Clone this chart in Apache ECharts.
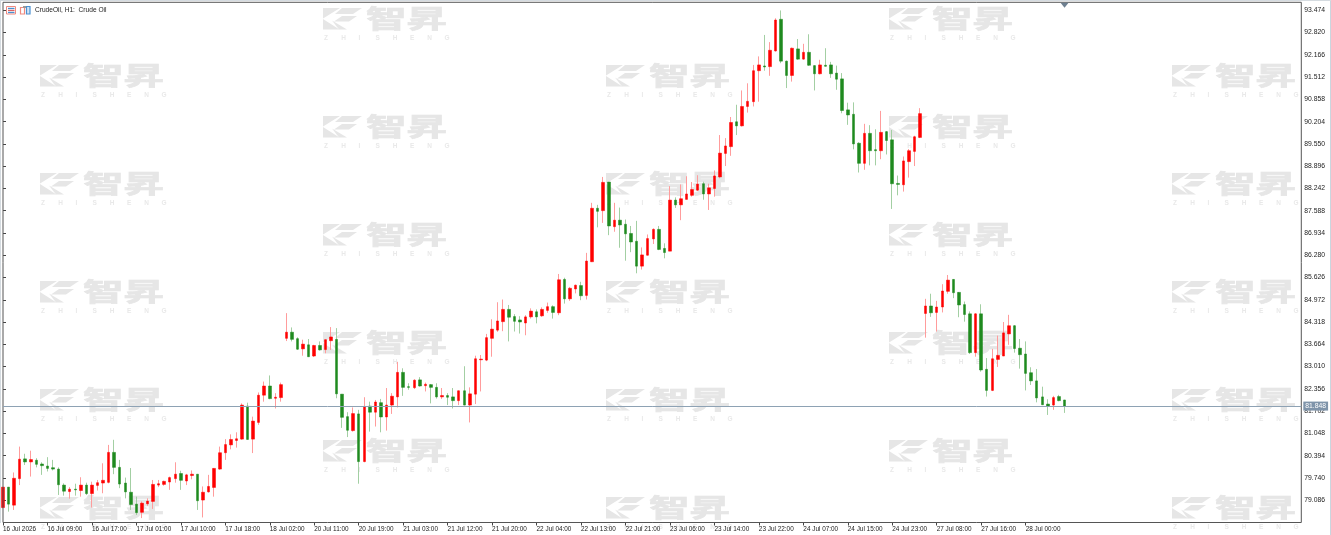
<!DOCTYPE html>
<html><head><meta charset="utf-8"><style>html,body{margin:0;padding:0;background:#fff}#c{width:1331px;height:535px}</style>
<script src="https://cdn.jsdelivr.net/npm/echarts@6/dist/echarts.min.js"></script></head><body><div id="c"></div>
<script>
const opens=[78.87,79.47,78.94,79.72,80.30,80.21,80.26,80.15,80.09,80.04,
80.00,79.53,79.34,79.41,79.37,79.53,79.28,79.52,79.59,79.61,
80.49,80.05,79.59,79.32,78.97,78.73,78.98,79.05,79.53,79.55,
79.62,79.72,79.87,79.65,79.81,79.85,79.09,79.33,79.46,80.00,
80.48,80.71,80.84,80.88,81.85,80.88,81.37,82.17,82.44,82.08,
82.10,83.84,84.02,83.83,83.53,83.65,83.32,83.63,83.51,83.77,
83.81,82.20,81.54,81.13,81.62,80.22,81.85,81.67,81.95,81.53,
81.88,82.12,82.84,82.42,82.39,82.62,82.45,82.48,82.40,82.12,
82.16,82.12,82.01,82.30,81.88,82.20,83.21,83.20,83.84,84.08,
84.33,84.69,84.48,84.38,84.29,84.47,84.62,84.50,84.66,84.77,
84.59,85.57,85.00,85.29,85.39,85.10,86.09,87.66,87.59,88.43,
87.12,87.31,87.19,86.92,86.69,85.96,86.28,86.76,87.04,86.48,
86.40,87.90,87.76,87.92,88.04,88.19,88.38,88.08,88.24,88.58,
89.27,89.47,90.20,90.08,90.65,90.79,91.70,91.84,91.82,92.28,
93.21,91.98,91.56,92.34,92.04,92.24,91.85,91.61,91.86,91.87,
91.63,91.46,90.55,90.42,89.57,88.98,89.86,89.38,89.35,89.91,
89.67,88.39,88.35,89.03,89.33,89.74,84.57,84.79,84.60,84.76,
85.22,85.57,85.19,84.83,84.56,83.42,84.56,82.93,82.31,83.22,
83.32,83.97,84.21,83.55,83.38,82.83,82.59,82.12,81.91,81.88,
82.13,82.03];
const closes=[79.47,78.97,79.73,80.29,80.21,80.28,80.14,80.10,80.02,80.00,
79.54,79.35,79.41,79.39,79.53,79.28,79.53,79.60,79.67,80.49,
80.05,79.56,79.33,78.96,78.72,79.00,79.06,79.55,79.57,79.64,
79.75,79.85,79.67,79.83,79.85,79.07,79.32,79.49,80.02,80.48,
80.72,80.87,80.89,81.88,80.87,81.41,82.17,82.44,82.07,82.11,
82.48,84.02,83.81,83.52,83.67,83.30,83.63,83.50,83.80,83.88,
82.21,81.52,81.14,81.63,80.22,81.84,81.67,81.97,81.53,81.88,
82.14,82.84,82.40,82.40,82.61,82.44,82.49,82.40,82.12,82.16,
82.11,82.01,82.30,81.88,82.21,83.24,83.23,83.86,84.11,84.35,
84.69,84.46,84.34,84.32,84.47,84.64,84.47,84.69,84.77,84.60,
85.56,85.00,85.31,85.40,85.09,86.11,87.66,87.57,88.42,87.14,
87.31,87.17,86.91,86.67,85.96,86.29,86.77,87.04,86.45,86.36,
87.90,87.76,87.94,88.08,88.21,88.37,88.08,88.26,88.61,89.28,
89.49,90.18,90.08,90.65,90.80,91.70,91.87,91.81,92.30,93.19,
91.98,91.56,92.36,92.04,92.24,91.86,91.61,91.87,91.83,91.61,
91.45,90.53,90.40,89.55,88.98,89.86,89.35,89.35,89.89,89.65,
88.38,88.36,89.05,89.35,89.76,90.44,84.79,84.59,84.76,85.23,
85.55,85.18,84.82,84.54,83.42,84.56,82.91,82.31,83.24,83.34,
84.00,84.21,83.54,83.36,82.81,82.59,82.09,81.89,81.85,82.10,
82.01,81.85];
const lows=[78.85,78.75,78.80,79.53,80.12,79.78,80.05,79.83,79.93,79.96,
79.24,79.22,79.13,79.22,79.19,79.24,78.87,79.37,79.29,79.58,
79.85,79.44,79.14,78.80,78.65,78.56,78.92,78.83,79.47,79.51,
79.39,79.60,79.39,79.53,79.70,78.80,78.58,79.31,79.19,79.98,
80.27,80.58,80.63,80.86,80.86,80.47,81.30,81.98,82.05,81.78,
81.98,83.76,83.75,83.50,83.33,83.29,83.29,83.48,83.40,83.50,
82.08,81.21,80.94,81.10,79.57,80.20,81.10,81.25,81.08,81.13,
81.62,81.81,82.15,82.33,82.35,82.42,82.28,81.93,82.07,82.06,
81.88,81.78,81.88,81.87,81.37,81.91,82.28,83.17,83.30,84.03,
84.05,83.75,84.04,83.98,83.93,84.42,84.28,84.47,84.59,84.42,
84.52,84.86,84.94,85.16,84.96,84.98,86.08,87.10,87.23,86.87,
86.97,86.50,86.12,86.37,85.75,85.86,86.27,86.61,86.43,86.19,
86.40,87.67,87.31,87.92,88.00,88.17,87.91,87.61,88.00,88.54,
88.90,89.20,89.81,90.06,90.47,90.65,90.79,91.70,91.55,92.26,
91.92,91.19,91.38,92.02,92.02,91.84,91.12,91.59,91.82,91.49,
91.14,90.45,90.11,89.39,88.71,88.79,88.92,88.92,89.10,89.24,
87.64,88.04,88.15,88.56,88.90,89.72,83.86,84.47,84.04,84.60,
85.15,85.02,84.46,84.33,83.38,83.30,82.86,82.13,82.29,83.00,
83.32,83.65,83.42,82.95,82.31,82.47,81.96,81.88,81.59,81.74,
81.99,81.65];
const highs=[79.47,79.47,79.90,80.66,80.45,80.54,80.32,80.20,80.35,80.27,
80.05,79.58,79.47,79.57,79.76,79.60,79.63,79.68,80.17,80.71,
80.86,80.27,79.75,80.03,79.19,79.05,79.14,79.68,79.68,79.66,
79.78,80.20,79.95,79.86,79.96,79.85,79.49,79.83,80.03,80.66,
80.88,81.02,81.08,81.93,81.95,81.54,82.25,82.57,82.75,82.23,
82.54,84.58,84.16,83.87,83.80,83.82,83.65,83.75,83.81,84.17,
84.14,82.20,81.67,81.81,81.74,82.11,81.98,82.03,82.06,82.38,
82.23,83.15,82.96,82.52,82.64,82.70,82.54,82.50,82.52,82.38,
82.23,82.38,82.31,83.02,82.40,83.33,83.35,83.97,84.40,84.90,
84.98,84.82,84.55,84.49,84.52,84.72,84.69,84.75,84.89,84.81,
85.73,85.62,85.35,85.42,85.50,86.35,87.82,87.76,88.58,88.43,
87.82,87.68,87.33,87.14,87.29,86.51,86.89,87.07,87.14,86.63,
88.31,87.98,88.36,88.60,88.43,88.63,88.44,88.38,88.77,89.81,
89.72,90.34,90.70,91.12,91.33,91.87,92.12,92.75,92.54,93.24,
93.47,92.00,92.38,92.63,92.49,92.77,91.86,92.02,92.36,91.96,
91.85,91.63,90.76,90.77,89.60,90.14,90.10,89.98,90.52,89.93,
89.96,88.62,89.18,89.40,89.79,90.60,85.00,85.15,84.94,85.43,
85.70,85.58,85.20,84.92,84.63,84.58,84.84,83.26,83.53,83.92,
84.32,84.53,84.23,83.82,83.75,82.99,82.94,82.42,82.05,82.15,
82.18,82.03];
const timeLabels=['16 Jul 2026','16 Jul 09:00','16 Jul 17:00','17 Jul 01:00','17 Jul 10:00','17 Jul 18:00','18 Jul 02:00','20 Jul 11:00','20 Jul 19:00','21 Jul 03:00','21 Jul 12:00','21 Jul 20:00','22 Jul 04:00','22 Jul 13:00','22 Jul 21:00','23 Jul 06:00','23 Jul 14:00','23 Jul 22:00','24 Jul 07:00','24 Jul 15:00','24 Jul 23:00','27 Jul 08:00','27 Jul 16:00','28 Jul 00:00'];
const priceTicks=[93.474,92.820,92.166,91.512,90.858,90.204,89.550,88.896,88.242,87.588,86.934,86.280,85.626,84.972,84.318,83.664,83.010,82.356,81.702,81.048,80.394,79.740,79.086];
const lastPrice=81.848;
const barsPerLabel=8;
const title='CrudeOil, H1:  Crude Oil';

const UP='#ff0000',DOWN='#1f8a1f',UPW='#ff9c9c',DOWNW='#a3cfa3',FONT='"Liberation Sans",Arial,sans-serif',WM='#e6e6e6';
const wickData=opens.map((o,i)=>[i,o,closes[i],lows[i],highs[i]]);
const bodyData=opens.map((o,i)=>[i,o,closes[i],Math.min(o,closes[i]),Math.max(o,closes[i])]);

function mark(x,y){
  const polys=[[[0,0],[17,0],[0,10.5]],[[0,11],[16.5,21.5],[0,21.5]],[[19,0],[39,0],[30,6],[12,6]],[[19,8],[34,8],[26,13.5],[11,13.5]],[[9,12.5],[24,21.5],[16,21.5]]];
  const children=polys.map(p=>({type:'polygon',shape:{points:p},style:{fill:WM}}));
  children.push({type:'text',x:43,y:-2.5,scaleY:0.62,style:{text:'智昇',font:'bold 40.5px "Noto Sans CJK SC"',fill:WM,stroke:WM,lineWidth:1.2,textVerticalAlign:'top'}});
  'ZHISHENG'.split('').forEach((ch,i)=>children.push({type:'text',x:1+i*17.2,y:27,style:{text:ch,font:'bold 6.5px '+FONT,fill:'#e9e9e9',textVerticalAlign:'top'}}));
  return {type:'group',x,y,z:0,silent:true,children};
}
const marks=[];
[[40,65],[323,8],[606,65],[889,8],[1172,65]].forEach(([x,y0])=>{for(let y=y0;y<530;y+=108)marks.push(mark(x,y));});

const icons=[
 {type:'rect',shape:{x:6.5,y:6.5,width:9,height:7.5},style:{fill:'#fff',stroke:'#ee8a80',lineWidth:1}},
 {type:'rect',shape:{x:8,y:7.8,width:6.5,height:1.3},style:{fill:'#4a90d0'}},
 {type:'rect',shape:{x:8,y:9.8,width:6.5,height:1.3},style:{fill:'#e06060'}},
 {type:'rect',shape:{x:8,y:11.8,width:6.5,height:1.3},style:{fill:'#4a90d0'}},
 {type:'rect',shape:{x:20.5,y:7.5,width:4,height:6.5},style:{fill:'#fff',stroke:'#ee8a80',lineWidth:1.2}},
 {type:'rect',shape:{x:26.5,y:6.5,width:3.5,height:7.5},style:{fill:'#cfe3f5',stroke:'#4a90d0',lineWidth:1.2}},
 {type:'rect',shape:{x:23,y:6,width:3,height:2},style:{fill:'#999'}},
 {type:'text',x:35,y:10,style:{text:title,font:'6.6px '+FONT,fill:'#222',textVerticalAlign:'middle'}},
 {type:'rect',shape:{x:1330,y:0,width:1,height:535},style:{fill:'#c9d6de'}},
 {type:'rect',shape:{x:0,y:0,width:1,height:523},style:{fill:'#d5dbe0'}},
 {type:'rect',shape:{x:0,y:0,width:1331,height:1},style:{fill:'#d5dbe0'}}
].map(e=>Object.assign(e,{z:10,silent:true}));

const chart=echarts.init(document.getElementById('c'),null,{renderer:'canvas'});
chart.setOption({
 animation:false,backgroundColor:'#fff',
 grid:{left:2.5,right:29.7,top:2.3,bottom:12.5,show:true,backgroundColor:'transparent',borderColor:'#555',borderWidth:1,z:5},
 xAxis:{type:'value',min:0,max:233.6,splitLine:{show:false},axisLine:{show:false},
  axisTick:{show:true,length:3,lineStyle:{color:'#444'},customValues:timeLabels.map((_,i)=>i*barsPerLabel)},
  axisLabel:{show:true,customValues:timeLabels.map((_,i)=>i*barsPerLabel),align:'left',margin:4,color:'#222',fontSize:6.4,fontFamily:FONT,formatter:v=>timeLabels[v/barsPerLabel]||''}},
 yAxis:{type:'value',position:'right',min:78.431,max:93.709,splitLine:{show:false},axisLine:{show:false},
  axisTick:{show:true,length:3,lineStyle:{color:'#444'},customValues:priceTicks},
  axisLabel:{show:true,customValues:priceTicks,margin:3,padding:[2,0,0,0],color:'#222',fontSize:6.8,fontFamily:FONT,formatter:v=>v.toFixed(3)}},
 graphic:{elements:marks.concat(icons)},
 series:[
  {type:'candlestick',name:'wick',data:wickData,barWidth:1,encode:{x:0,y:[1,2,3,4]},
   itemStyle:{color:UPW,color0:DOWNW,borderColor:UPW,borderColor0:DOWNW,borderWidth:1},silent:true,z:3,
   markLine:{silent:true,symbol:'none',animation:false,lineStyle:{color:'#8ea2b4',width:1,type:'solid'},
    label:{show:true,position:'end',distance:2,formatter:()=>lastPrice.toFixed(3),backgroundColor:'#7f94aa',color:'#fff',fontSize:6.8,fontFamily:FONT,padding:[1,2]},
    data:[{yAxis:lastPrice}]},
   markPoint:{silent:true,animation:false,symbol:'triangle',symbolRotate:180,symbolSize:[8,5],symbolOffset:[0,3],itemStyle:{color:'#6d7f90'},label:{show:false},data:[{coord:[opens.length-1,93.709]}]}},
  {type:'candlestick',name:'body',data:bodyData,barWidth:3,encode:{x:0,y:[1,2,3,4]},
   itemStyle:{color:UP,color0:DOWN,borderColor:UP,borderColor0:DOWN,borderWidth:0.5},silent:true,z:4}
 ]
});
</script></body></html>
